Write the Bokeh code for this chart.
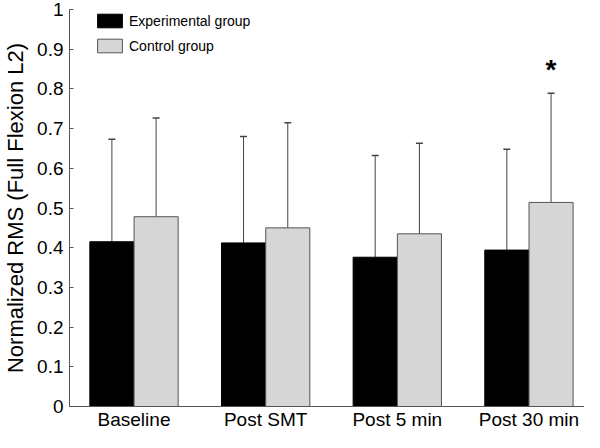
from bokeh.plotting import figure
from bokeh.models import (ColumnDataSource, Range1d, FixedTicker, Whisker, TeeHead,
                          Legend, LegendItem)
from bokeh.core.properties import value
from bokeh.embed import file_html
from bokeh.resources import INLINE

categories = ["Baseline", "Post SMT", "Post 5 min", "Post 30 min"]
experimental_mean = [0.415, 0.412, 0.376, 0.394]
experimental_sd = [0.258, 0.268, 0.256, 0.254]
control_mean = [0.478, 0.450, 0.435, 0.514]
control_sd = [0.249, 0.265, 0.228, 0.275]
series_names = ["Experimental group", "Control group"]
y_ticks = [0, 0.1, 0.2, 0.3, 0.4, 0.5, 0.6, 0.7, 0.8, 0.9, 1]
y_tick_labels = ["0", "0.1", "0.2", "0.3", "0.4", "0.5", "0.6", "0.7", "0.8", "0.9", "1"]
significance_category = 3  # Post 30 min, control group
significance_label = "*"

FONT = "Liberation Sans"
offset = 0.168
bar_w = 0.335

pos = [i + 1 for i in range(len(categories))]
exp_x = [p - offset for p in pos]
ctl_x = [p + offset for p in pos]

exp_src = ColumnDataSource(dict(x=exp_x, top=experimental_mean,
                                upper=[m + s for m, s in zip(experimental_mean, experimental_sd)]))
ctl_src = ColumnDataSource(dict(x=ctl_x, top=control_mean,
                                upper=[m + s for m, s in zip(control_mean, control_sd)]))

p = figure(width=584, height=432, output_backend="svg", toolbar_location=None,
           x_range=Range1d(0.51, 4.422), y_range=Range1d(0, 1),
           min_border_left=65, min_border_right=0, min_border_top=9, min_border_bottom=25)
p.outline_line_color = None
p.grid.visible = False
p.background_fill_color = "white"

# error bars (upper only)
for src in (exp_src, ctl_src):
    w = Whisker(source=src, base="x", lower="top", upper="upper",
                line_color="#444444", line_width=1,
                upper_head=TeeHead(size=7, line_color="#444444", line_width=1.5),
                lower_head=None)
    p.add_layout(w)

r_exp = p.vbar(x="x", top="top", width=bar_w, source=exp_src,
               fill_color="black", line_color="black", line_width=1)
r_ctl = p.vbar(x="x", top="top", width=bar_w, source=ctl_src,
               fill_color="#d6d6d6", line_color="#555555", line_width=1)

# significance marker
sig_x = [ctl_x[significance_category]]
sig_y = [control_mean[significance_category] + control_sd[significance_category] + 0.06]
p.text(x=sig_x, y=sig_y, text=[significance_label], text_align="center",
       text_baseline="middle", text_font=value(FONT), text_font_size="28px",
       text_font_style="bold", text_color="black")

# axes
p.xaxis.ticker = FixedTicker(ticks=pos)
p.xaxis.major_label_overrides = {p_: c for p_, c in zip(pos, categories)}
p.xaxis.major_tick_line_color = None
p.xaxis.major_tick_in = 0
p.xaxis.major_tick_out = 0
p.xaxis.minor_tick_line_color = None
p.xaxis.minor_tick_in = 0
p.xaxis.minor_tick_out = 0
p.xaxis.axis_line_color = "#555555"
p.xaxis.major_label_text_font = FONT
p.xaxis.major_label_text_font_size = "19px"
p.xaxis.major_label_text_color = "black"
p.xaxis.major_label_standoff = 2

p.yaxis.ticker = FixedTicker(ticks=y_ticks)
p.yaxis.major_label_overrides = {t: l for t, l in zip(y_ticks, y_tick_labels)}
p.yaxis.major_tick_in = 4
p.yaxis.major_tick_out = 0
p.yaxis.minor_tick_line_color = None
p.yaxis.axis_line_color = "#555555"
p.yaxis.major_tick_line_color = "#555555"
p.yaxis.major_label_text_font = FONT
p.yaxis.major_label_text_font_size = "19px"
p.yaxis.major_label_text_color = "black"
p.yaxis.major_label_standoff = 6
p.yaxis.axis_label = "Normalized RMS (Full Flexion L2)"
p.yaxis.axis_label_text_font = FONT
p.yaxis.axis_label_text_font_size = "22px"
p.yaxis.axis_label_text_font_style = "normal"
p.yaxis.axis_label_text_color = "black"
p.yaxis.axis_label_standoff = 6

legend = Legend(items=[LegendItem(label=series_names[0], renderers=[r_exp]),
                       LegendItem(label=series_names[1], renderers=[r_ctl])],
                location=(25, 352), orientation="vertical")
legend.glyph_width = 31
legend.glyph_height = 17
legend.label_height = 17
legend.spacing = 8
legend.padding = 0
legend.margin = 0
legend.label_standoff = 4
legend.label_text_font = FONT
legend.label_text_font_size = "14px"
legend.label_text_color = "black"
legend.border_line_color = None
legend.background_fill_alpha = 0
p.add_layout(legend)

open("out.html", "w").write(file_html(p, INLINE))
